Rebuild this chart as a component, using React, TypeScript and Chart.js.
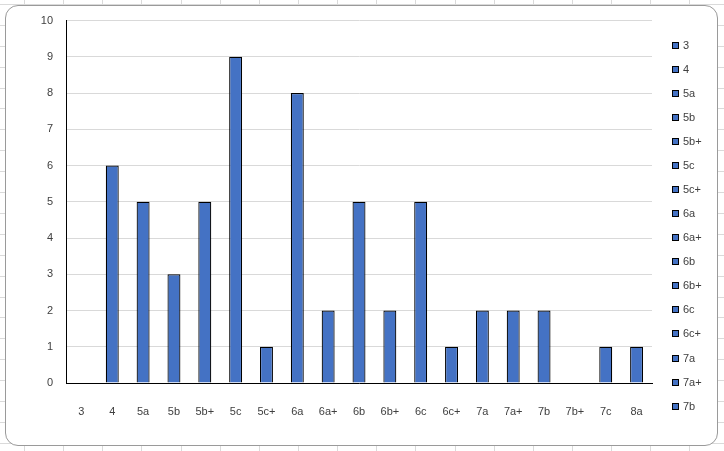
import { useEffect, useRef } from "react"
import { Chart, type ChartConfiguration, type Plugin, registerables } from "chart.js"

Chart.register(...registerables)

const grades = ["3", "4", "5a", "5b", "5b+", "5c", "5c+", "6a", "6a+", "6b", "6b+", "6c", "6c+", "7a", "7a+", "7b", "7b+", "7c", "8a"]
const counts = [0, 6, 5, 3, 5, 9, 1, 8, 2, 5, 2, 5, 1, 2, 2, 2, 0, 1, 1]
const yTicks = [0, 1, 2, 3, 4, 5, 6, 7, 8, 9, 10]

const BAR_BLUE = "#4472C4"
const TEXT = "#404040"
const FONT = "Liberation Sans"

// Excel-style legend: one entry per category, clipped at the bottom of its area
const pointLegend: Plugin<"bar"> = {
  id: "pointLegend",
  afterDraw: (chart) => {
    const { ctx, chartArea } = chart
    const labels = (chart.data.labels || []) as string[]
    const boxX = chartArea.right + 20.5
    const textX = chartArea.right + 31
    const step = 24.07
    const limit = chartArea.bottom + 28
    ctx.save()
    ctx.font = `11px ${FONT}`
    ctx.textBaseline = "middle"
    ctx.textAlign = "left"
    labels.forEach((label, i) => {
      const y = chartArea.top + 25 + step * i
      if (y > limit) return
      const yy = Math.round(y) - 3.5
      ctx.fillStyle = BAR_BLUE
      ctx.fillRect(boxX, yy, 6, 6)
      ctx.strokeStyle = "#000000"
      ctx.lineWidth = 1
      ctx.strokeRect(boxX, yy, 6, 6)
      ctx.fillStyle = TEXT
      ctx.fillText(label, textX, Math.round(y))
    })
    ctx.restore()
  },
}

export default function App() {
  const chartRef = useRef<HTMLCanvasElement>(null)
  const chartInstance = useRef<Chart | null>(null)

  useEffect(() => {
    if (!chartRef.current) return
    if (chartInstance.current) chartInstance.current.destroy()
    const ctx = chartRef.current.getContext("2d")
    if (!ctx) return

    const config: ChartConfiguration<"bar"> = {
      type: "bar",
      data: {
        labels: grades,
        datasets: [
          {
            data: counts,
            backgroundColor: BAR_BLUE,
            borderColor: "#000000",
            borderWidth: 1.2,
            barPercentage: 0.42,
            categoryPercentage: 1,
          },
        ],
      },
      options: {
        responsive: true,
        maintainAspectRatio: false,
        animation: false,
        layout: { padding: { top: 9, right: 65, left: 0, bottom: 0 } },
        plugins: {
          legend: { display: false },
          tooltip: { enabled: false },
        },
        scales: {
          x: {
            grid: { display: false },
            border: { display: true, color: "#000000", width: 1 },
            ticks: { color: TEXT, font: { family: FONT, size: 11 }, padding: 14, maxRotation: 0, autoSkip: false },
            afterFit: (s) => {
              s.height = 62
            },
          },
          y: {
            min: yTicks[0],
            max: yTicks[yTicks.length - 1],
            afterBuildTicks: (s) => {
              s.ticks = yTicks.map((v) => ({ value: v }))
            },
            grid: { color: "#d9d9d9", drawTicks: false },
            border: { display: true, color: "#000000", width: 1 },
            ticks: { color: TEXT, font: { family: FONT, size: 11 }, padding: 13 },
            afterFit: (s) => {
              s.width = 60
            },
          },
        },
      },
      plugins: [pointLegend],
    }

    chartInstance.current = new Chart(ctx, config)

    return () => {
      if (chartInstance.current) {
        chartInstance.current.destroy()
        chartInstance.current = null
      }
    }
  }, [])

  return (
    <div
      style={{
        position: "fixed",
        inset: 0,
        background:
          "repeating-linear-gradient(to right, transparent 0px, transparent 24px, #dadada 24px, #dadada 25px, transparent 25px, transparent 39.14px)," +
          "repeating-linear-gradient(to bottom, transparent 0px, transparent 4px, #dadada 4px, #dadada 5px, transparent 5px, transparent 20.9px)",
        backgroundColor: "#ffffff",
      }}
    >
      <div
        style={{
          position: "absolute",
          left: 5,
          top: 5,
          width: 713,
          height: 441,
          boxSizing: "border-box",
          border: "1px solid #9a9a9a",
          borderRadius: 13,
          background: "#ffffff",
          overflow: "hidden",
        }}
      >
        <div style={{ position: "relative", top: -5, width: 711, height: 444 }}>
          <canvas ref={chartRef} />
        </div>
      </div>
    </div>
  )
}
